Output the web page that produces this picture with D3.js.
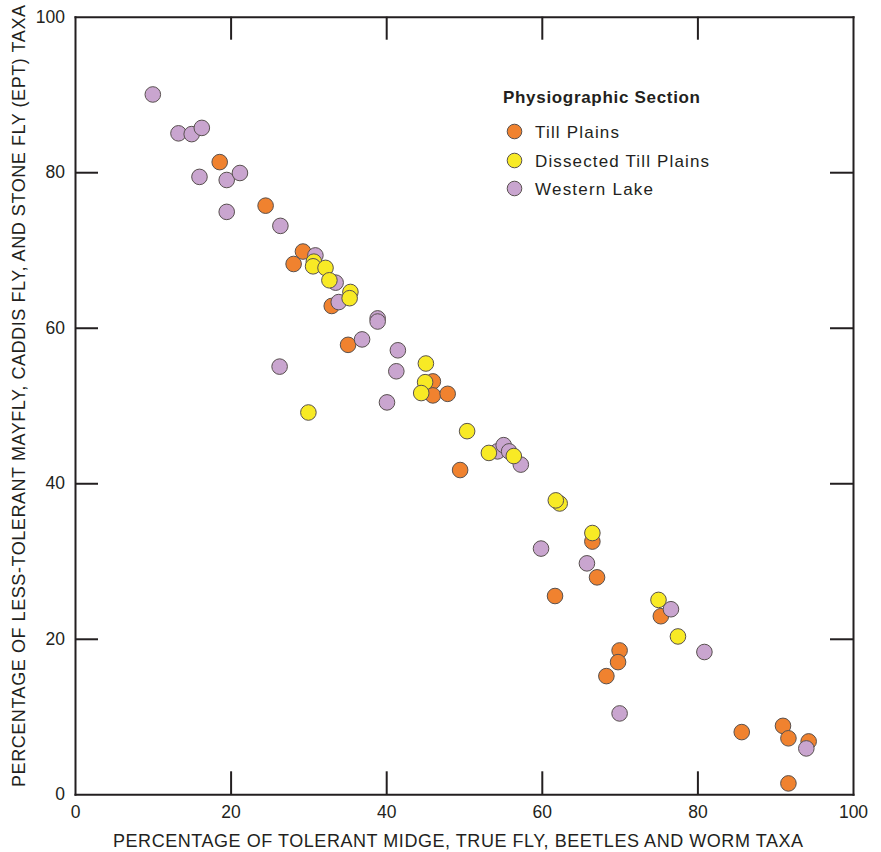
<!DOCTYPE html>
<html>
<head>
<meta charset="utf-8">
<script src="https://cdn.jsdelivr.net/npm/d3@7"></script>
<style>
  html, body { margin: 0; padding: 0; background: #fff; }
  svg { display: block; font-family: "Liberation Sans", Arial, Helvetica, sans-serif; }
</style>
</head>
<body>
<svg id="chart" width="881" height="852"></svg>
<script>
// Percentage of tolerant taxa (x) vs. percentage of less-tolerant EPT taxa (y), by physiographic section
const tillPlainsX = [18.6, 24.5, 29.3, 28.1, 33.0, 35.1, 46.0, 46.0, 47.9, 49.5, 66.5, 67.1, 61.7, 75.3, 70.0, 69.8, 68.3, 85.7, 91.0, 91.7, 94.3, 91.7];
const tillPlainsY = [81.3, 75.7, 69.8, 68.2, 62.8, 57.8, 53.1, 51.3, 51.5, 41.7, 32.5, 27.9, 25.5, 22.9, 18.5, 17.0, 15.2, 8.0, 8.8, 7.2, 6.8, 1.4];

const dissectedX = [30.7, 30.6, 32.2, 32.7, 35.4, 35.3, 45.1, 45.0, 44.5, 30.0, 50.4, 53.2, 56.4, 62.3, 61.8, 66.5, 75.0, 77.5];
const dissectedY = [68.5, 67.9, 67.7, 66.1, 64.6, 63.8, 55.4, 53.0, 51.6, 49.1, 46.7, 43.9, 43.5, 37.4, 37.8, 33.6, 25.0, 20.3];

const westernLakeX = [10.0, 13.3, 15.0, 16.3, 16.0, 19.5, 21.2, 19.5, 26.4, 30.9, 33.5, 33.9, 38.9, 38.9, 36.9, 41.5, 26.3, 41.3, 40.1, 54.3, 55.1, 55.8, 57.3, 59.9, 65.8, 76.6, 80.9, 70.0, 94.0];
const westernLakeY = [90.0, 85.0, 84.9, 85.7, 79.4, 79.0, 79.9, 74.9, 73.1, 69.3, 65.8, 63.3, 61.2, 60.8, 58.5, 57.1, 55.0, 54.4, 50.4, 44.1, 44.9, 44.1, 42.4, 31.6, 29.7, 23.8, 18.3, 10.4, 5.9];

const xTicks = [0, 20, 40, 60, 80, 100];
const yTicks = [0, 20, 40, 60, 80, 100];

const legendTitle = "Physiographic Section";
const seriesNames = ["Till Plains", "Dissected Till Plains", "Western Lake"];
const seriesColors = ["#f0822f", "#f8ea25", "#c9a5cf"];

const xTitle = "PERCENTAGE OF TOLERANT MIDGE, TRUE FLY, BEETLES AND WORM TAXA";
const yTitle = "PERCENTAGE OF LESS-TOLERANT MAYFLY, CADDIS FLY, AND STONE FLY (EPT) TAXA";

const series = [
  { name: seriesNames[0], color: seriesColors[0], xs: tillPlainsX, ys: tillPlainsY },
  { name: seriesNames[1], color: seriesColors[1], xs: dissectedX, ys: dissectedY },
  { name: seriesNames[2], color: seriesColors[2], xs: westernLakeX, ys: westernLakeY }
];
// drawing order: Till Plains, Western Lake, Dissected Till Plains
const drawOrder = [0, 2, 1];

const ink = "#231f20";
const svg = d3.select("#chart");
const margin = { left: 75, right: 28, top: 17, bottom: 58 };
const W = 881, H = 852;

const x = d3.scaleLinear().domain([0, 100]).range([margin.left, W - margin.right]);
const y = d3.scaleLinear().domain([0, 100]).range([H - margin.bottom + 0.3, margin.top - 0.3]);

const tickLen = 23;

// frame with inward ticks on all four sides
const gBottom = svg.append("g").attr("transform", `translate(0,${y(0)})`)
  .call(d3.axisBottom(x).tickValues(xTicks).tickSizeInner(-tickLen).tickSizeOuter(0).tickPadding(8));
const gTop = svg.append("g").attr("transform", `translate(0,${y(100)})`)
  .call(d3.axisTop(x).tickValues(xTicks).tickSizeInner(-tickLen).tickSizeOuter(0).tickFormat(""));
const gLeft = svg.append("g").attr("transform", `translate(${x(0)},0)`)
  .call(d3.axisLeft(y).tickValues(yTicks).tickSizeInner(-tickLen).tickSizeOuter(0).tickPadding(10));
const gRight = svg.append("g").attr("transform", `translate(${x(100)},0)`)
  .call(d3.axisRight(y).tickValues(yTicks).tickSizeInner(-tickLen).tickSizeOuter(0).tickFormat(""));

[gBottom, gTop, gLeft, gRight].forEach(g => {
  g.select(".domain").attr("stroke", ink).attr("stroke-width", 2).attr("stroke-linecap", "square");
  g.selectAll(".tick line").attr("stroke", ink).attr("stroke-width", 2);
  g.selectAll(".tick text").attr("fill", ink).attr("font-size", 17.5)
    .attr("font-family", "'Liberation Sans', Arial, sans-serif");
});
gBottom.selectAll(".tick text").attr("dy", "0.88em");
// hide the inner ticks that coincide with the frame corners
[gBottom, gTop, gLeft, gRight].forEach(g =>
  g.selectAll(".tick").filter(d => d === 0 || d === 100).select("line").remove());

// points
const r = 7.8;
drawOrder.forEach(i => {
  const s = series[i];
  const pts = s.xs.map((v, k) => ({ x: v, y: s.ys[k] }));
  svg.append("g").selectAll("circle").data(pts).join("circle")
    .attr("cx", d => x(d.x)).attr("cy", d => y(d.y)).attr("r", r)
    .attr("fill", s.color).attr("stroke", "#58514f").attr("stroke-width", 1);
});

// axis titles
svg.append("text")
  .attr("x", 458).attr("y", 847)
  .attr("text-anchor", "middle").attr("font-size", 18).attr("fill", ink)
  .attr("textLength", 690).attr("lengthAdjust", "spacing")
  .text(xTitle);

svg.append("text")
  .attr("transform", `translate(25,396) rotate(-90)`)
  .attr("text-anchor", "middle").attr("font-size", 18).attr("fill", ink)
  .attr("textLength", 782).attr("lengthAdjust", "spacing")
  .text(yTitle);

// legend
const lg = svg.append("g");
lg.append("text").attr("x", 503).attr("y", 103)
  .attr("font-size", 17).attr("font-weight", "bold").attr("fill", ink)
  .attr("textLength", 197).attr("lengthAdjust", "spacing")
  .text(legendTitle);
const legendY = [131.5, 160.5, 188.5];
const legendWidths = [84, 174, 118];
series.forEach((s, i) => {
  lg.append("circle").attr("cx", 514.5).attr("cy", legendY[i]).attr("r", 7.3)
    .attr("fill", s.color).attr("stroke", "#58514f").attr("stroke-width", 1);
  lg.append("text").attr("x", 535).attr("y", legendY[i] + 6)
    .attr("font-size", 17).attr("fill", ink)
    .attr("textLength", legendWidths[i]).attr("lengthAdjust", "spacing")
    .text(s.name);
});
</script>
</body>
</html>
